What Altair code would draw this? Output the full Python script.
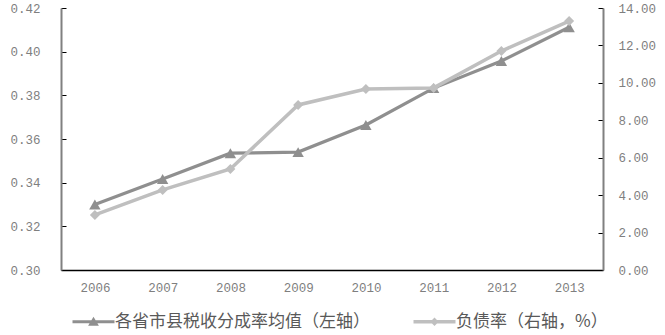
import altair as alt
import pandas as pd

years = ["2006", "2007", "2008", "2009", "2010", "2011", "2012", "2013"]
tax_share = [0.330, 0.3417, 0.3535, 0.354, 0.3664, 0.3833, 0.3957, 0.4112]
debt_ratio = [2.94, 4.28, 5.40, 8.82, 9.67, 9.73, 11.70, 13.30]
left_ticks = [0.30, 0.32, 0.34, 0.36, 0.38, 0.40, 0.42]
right_ticks = [0, 2, 4, 6, 8, 10, 12, 14]
label_tax = "各省市县税收分成率均值（左轴）"
label_debt = "负债率（右轴，%）"
dark = "#8f8f8f"
light = "#bfbfbf"

df_tax = pd.DataFrame({"year": years, "tax": tax_share, "series": label_tax})
df_debt = pd.DataFrame({"year": years, "debt": debt_ratio, "series": label_debt})

num_font = "Liberation Mono"
cjk_font = "Noto Sans CJK SC"

x = alt.X("year:N", sort=years, title=None,
          scale=alt.Scale(type="point", padding=0.5),
          axis=alt.Axis(labelAngle=0, ticks=False, domainColor="#000000", domainWidth=1.5,
                        labelPadding=11, labelFont=num_font, labelFontSize=12.5,
                        labelColor="#7f7f7f"))

color_scale = alt.Scale(domain=[label_tax, label_debt], range=[dark, light])
tri_path = "M-3.5,-0.25H3.5V0.25H-3.5Z M-0.9,0.65L0,-0.85L0.9,0.65Z"
dia_path = "M-3.5,-0.3H3.5V0.3H-3.5Z M-0.7,0L0,-0.7L0.7,0L0,0.7Z"
shape_scale = alt.Scale(domain=[label_tax, label_debt], range=[tri_path, dia_path])

legend = alt.Legend(title=None, orient="none", legendX=24, legendY=305, direction="horizontal",
                    symbolSize=144, labelOffset=13, columnPadding=43, labelLimit=500,
                    labelFont=cjk_font, labelFontSize=17, labelColor="#595959",
                    symbolStrokeWidth=0, symbolOpacity=1)

y_left = alt.Y("tax:Q", title=None,
               scale=alt.Scale(domain=[0.30, 0.42], nice=False, zero=False),
               axis=alt.Axis(values=left_ticks, format=".2f", grid=False,
                             domainColor="#808080", domainWidth=2,
                             tickColor="#000000", tickSize=alt.ExprRef("-5"),
                             labelPadding=26, labelFont=num_font, labelFontSize=12.5,
                             labelColor="#7f7f7f"))
y_right = alt.Y("debt:Q", title=None,
                scale=alt.Scale(domain=[0, 14], nice=False),
                axis=alt.Axis(orient="right", values=right_ticks, format=".2f", grid=False,
                              domainColor="#808080", domainWidth=2,
                              tickColor="#000000", tickSize=alt.ExprRef("-5"),
                              labelPadding=20, labelFont=num_font, labelFontSize=12.5,
                              labelColor="#7f7f7f"))

left_line = alt.Chart(df_tax).mark_line(strokeWidth=3.2, color=dark).encode(x=x, y=y_left)
left_pts = alt.Chart(df_tax).mark_point(filled=True, size=130, opacity=1, shape="triangle-up",
                                         color=dark).encode(x=x, y=y_left)
left_legend = alt.Chart(df_tax).mark_point(filled=True, size=0, opacity=1).encode(
    x=x, y=y_left,
    color=alt.Color("series:N", scale=color_scale, legend=legend),
    shape=alt.Shape("series:N", scale=shape_scale, legend=legend),
)
right_line = alt.Chart(df_debt).mark_line(strokeWidth=3.5, color=light).encode(x=x, y=y_right)
right_pts = alt.Chart(df_debt).mark_point(filled=True, size=100, opacity=1, shape="diamond",
                                           color=light).encode(x=x, y=y_right)
right_legend = alt.Chart(df_debt).mark_point(filled=True, size=0, opacity=1).encode(
    x=x, y=y_right,
    color=alt.Color("series:N", scale=color_scale, legend=legend),
    shape=alt.Shape("series:N", scale=shape_scale, legend=legend),
)

left_layer = alt.layer(left_line, left_pts, left_legend)
right_layer = alt.layer(right_line, right_pts, right_legend)

chart = alt.layer(left_layer, right_layer).resolve_scale(y="independent").properties(
    width=542, height=262,
    autosize=alt.AutoSizeParams(type="none"),
    padding={"left": 61, "top": 8, "right": 62, "bottom": 65},
).configure_view(stroke=None)

chart.save("out.html", embed_options={"renderer": "svg", "actions": False})
